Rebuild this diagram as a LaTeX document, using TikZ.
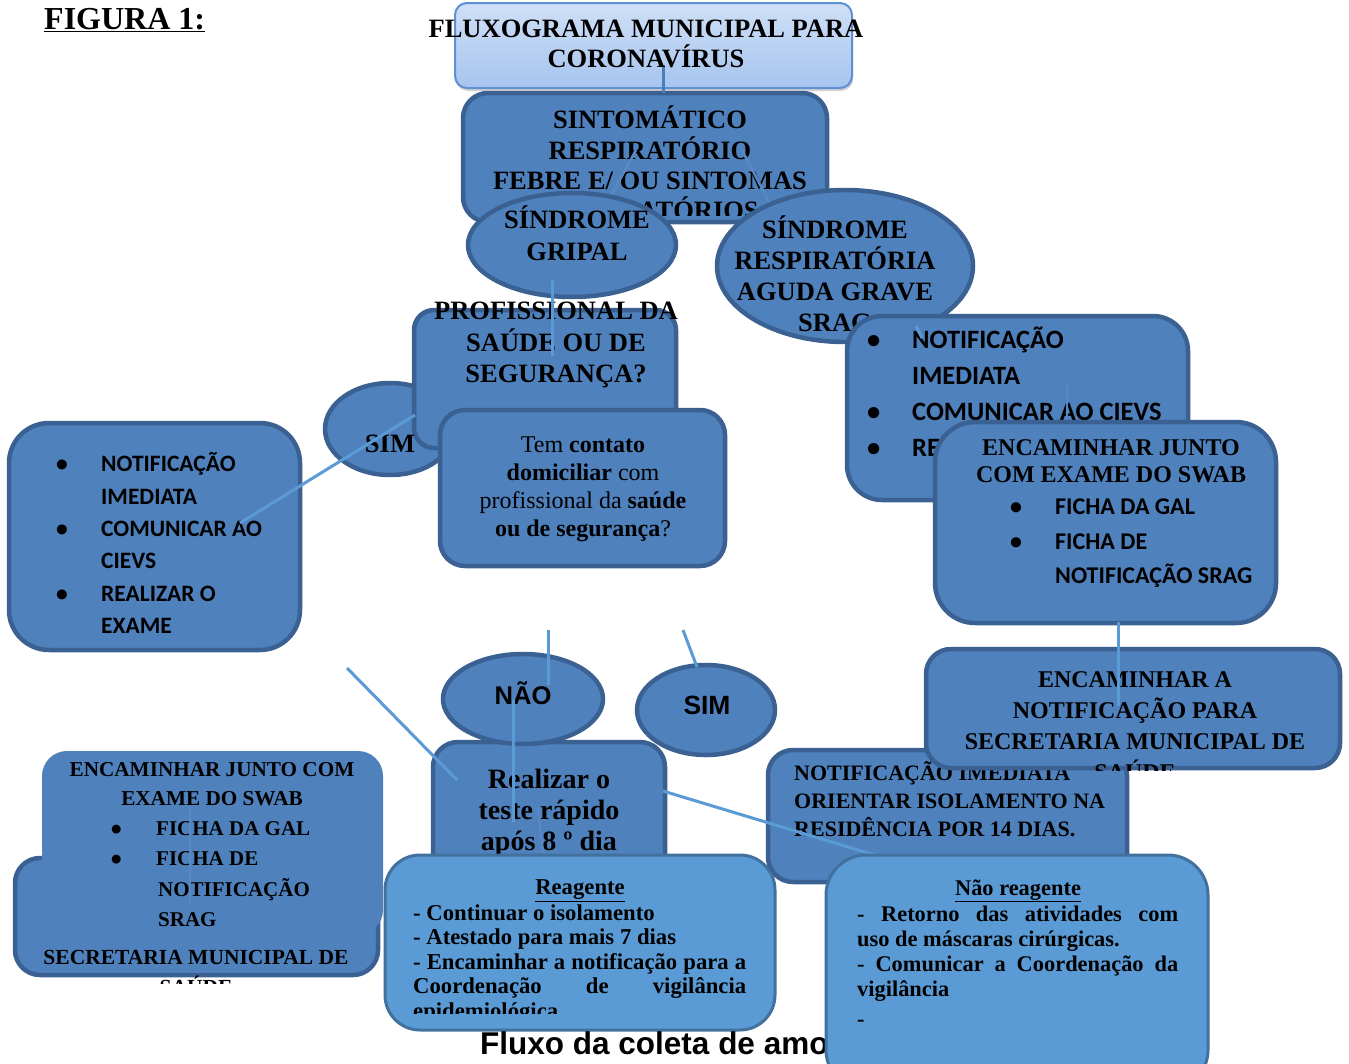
\documentclass[tikz,border=0pt]{standalone}
\usepackage{fontspec}
\setmainfont{Liberation Serif}
\newfontfamily\calibri{Carlito}
\newfontfamily\arial{Liberation Sans}
\usepackage{tikz}
\usetikzlibrary{shapes.geometric,positioning,shadows}
\definecolor{azul}{HTML}{4F81BD}
\definecolor{borda}{HTML}{3A6192}
\definecolor{azulclaro}{HTML}{5B9BD5}
\definecolor{bordaclara}{HTML}{41719C}
\definecolor{topo}{HTML}{CFE0F7}
\definecolor{fundo}{HTML}{A6C4EE}
\definecolor{tborda}{HTML}{5E90D2}
\definecolor{corlinha}{HTML}{5B9BD5}
\definecolor{cortitulo}{HTML}{4A7EBB}
\definecolor{corfraca}{HTML}{5889C6}
\newcommand{\tam}[2]{\fontsize{#1}{#2}\selectfont}
\newcommand{\bala}[2]{\makebox[#1][l]{{\calibri\textbullet}}#2}

\begin{document}
\begin{tikzpicture}[x=1pt,y=-1pt,
    caixa/.style={draw=borda,fill=azul,line width=4.5pt,rounded corners=#1,inner sep=0pt},
    caixa/.default=25pt,
    caixaclara/.style={draw=bordaclara,fill=azulclaro,line width=3pt,rounded corners=#1,inner sep=0pt},
    caixaclara/.default=35pt,
    elipse/.style={ellipse,draw=borda,fill=azul,line width=4.5pt,inner sep=0pt},
    titulo/.style={draw=tborda,line width=2pt,rounded corners=12pt,top color=topo,bottom color=fundo,
      drop shadow={opacity=0.35,shadow xshift=1pt,shadow yshift=-3pt}},
    linha/.style={draw=corlinha,line width=3pt},
    fraca/.style={draw=corfraca,line width=2.5pt},
    tnr/.style={font=\bfseries\tam{#1}{31},align=center,inner sep=0pt},
    tnr/.default=26.5]
          \fill[white] (0,0) rectangle (1349,1063);
          \useasboundingbox (0,0) rectangle (1349,1063);
          \node[font=\bfseries\tam{32}{36},inner sep=0pt,anchor=west] (figura) at (44,20) {\underline{FIGURA 1:}};

          \node[titulo,minimum width=397pt,minimum height=85pt] (titulo) at (653.5,45.5) {};
          \node[caixa,minimum width=364pt,minimum height=129pt] (sint) at (645,157.5) {};
          \coordinate (t1) at (663,65);
          \coordinate (t2) at (663,93);
          \draw[linha,draw=cortitulo] (t1) -- (t2);
          \node[font=\bfseries\tam{26.5}{30},align=center,inner sep=0pt] (ttitulo) at (646,44) {FLUXOGRAMA MUNICIPAL PARA\\CORONAVÍRUS};
          \begin{scope}
            \clip (463,93) rectangle (827,215);
            \node[font=\bfseries\tam{26.5}{30.4},align=center,inner sep=0pt] (tsint) at (650,163) {SINTOMÁTICO\\RESPIRATÓRIO\\FEBRE E/ OU SINTOMAS\\RESPIRATÓRIOS};
          \end{scope}
          \coordinate (g1) at (636,150);
          \coordinate (g2) at (610,198);
          \coordinate (s1) at (742,150);
          \coordinate (s2) at (770,204);
          \draw[fraca] (g1) -- (g2);
          \draw[fraca] (s1) -- (s2);

          \node[elipse,minimum width=208pt,minimum height=104pt] (gripal) at (572,245) {};
          \node[tnr,font=\bfseries\tam{26.5}{32}] (tgripal) at (577,233) {SÍNDROME\\GRIPAL};
          \node[elipse,minimum width=256pt,minimum height=152pt] (srag) at (845,266) {};
          \node[tnr] (tsrag) at (835,274) {SÍNDROME\\RESPIRATÓRIA\\AGUDA GRAVE\\SRAG};

          \node[elipse,minimum width=130pt,minimum height=92pt] (sim1) at (390,429) {};
          \node[caixa=20pt,minimum width=262pt,minimum height=138pt] (prof) at (545,379) {};
          \node[tnr,font=\bfseries\tam{26.5}{31.5}] (tprof) at (556,345) {PROFISSIONAL DA\\SAÚDE OU DE\\SEGURANÇA?};
          \coordinate (p1) at (552,280);
          \coordinate (p2) at (552,356);
          \draw[linha] (p1) -- (p2);
          \node[caixa,minimum width=285pt,minimum height=156pt] (contato) at (582.5,488) {};
          \node[font=\tam{24}{28},align=center,inner sep=0pt] (tcontato) at (583,489) {Tem \textbf{contato}\\\textbf{domiciliar} com\\profissional da \textbf{saúde}\\\textbf{ou de segurança}?};
          \node[tnr] (tsim1) at (390,444) {SIM};

          \node[caixa=40pt,minimum width=291pt,minimum height=227pt] (esq) at (154.5,536.5) {};
          \node[font=\calibri\bfseries\tam{23.5}{32.3},align=left,inner sep=0pt,anchor=west] (tesq) at (56,543)
            {\bala{45pt}{NOTIFICAÇÃO}\\\hspace*{45pt}IMEDIATA\\\bala{45pt}{COMUNICAR AO}\\\hspace*{45pt}CIEVS\\\bala{45pt}{REALIZAR O}\\\hspace*{45pt}EXAME};
          \coordinate (e1) at (415,415);
          \coordinate (e2) at (240,523);
          \draw[linha] (e1) -- (e2);

          \node[caixa=35pt,minimum width=341pt,minimum height=184pt] (notif) at (1017.5,408) {};
          \node[font=\calibri\bfseries\tam{26.5}{36},align=left,inner sep=0pt,anchor=west] (tnotif) at (867,392)
            {\bala{45pt}{NOTIFICAÇÃO}\\\hspace*{45pt}IMEDIATA\\\bala{45pt}{COMUNICAR AO CIEVS}\\\bala{45pt}{REALIZAR O EXAME}};
          \coordinate (n1) at (916,326);
          \coordinate (n2) at (922,338);
          \draw[linha] (n1) -- (n2);
          \coordinate (n3) at (1067,383);
          \coordinate (n4) at (1067,425);
          \draw[fraca] (n3) -- (n4);
          \node[caixa=40pt,minimum width=341pt,minimum height=201pt] (encj) at (1105.5,522.5) {};
          \node[tnr,font=\bfseries\tam{24}{27}] (tencj) at (1111,461.5) {ENCAMINHAR JUNTO\\COM EXAME DO SWAB};
          \node[font=\calibri\bfseries\tam{24}{34.5},align=left,inner sep=0pt,anchor=west] (lencj) at (1010,543.5)
            {\bala{45pt}{FICHA DA GAL}\\\bala{45pt}{FICHA DE}\\\hspace*{45pt}NOTIFICAÇÃO SRAG};

          \node[caixa,minimum width=359pt,minimum height=132pt] (imed) at (947.5,816) {};
          \node[font=\bfseries\tam{22}{28},align=left,inner sep=0pt,anchor=west] (timed) at (794,799) {NOTIFICAÇÃO IMEDIATA\\ORIENTAR ISOLAMENTO NA\\RESIDÊNCIA POR 14 DIAS.};
          \node[caixa,minimum width=414pt,minimum height=119pt] (enca) at (1133,708.5) {};
          \begin{scope}
            \clip (900,640) rectangle (1349,770);
            \node[tnr,font=\bfseries\tam{24}{31}] (tenca) at (1135,726) {ENCAMINHAR A\\NOTIFICAÇÃO PARA\\SECRETARIA MUNICIPAL DE\\SAÚDE};
          \end{scope}
          \coordinate (a1) at (1118,622);
          \coordinate (a2) at (1118,706);
          \draw[linha] (a1) -- (a2);

          \node[caixa,minimum width=232pt,minimum height=138pt] (teste) at (549,811) {};
          \node[tnr,font=\bfseries\tam{28}{31}] (tteste) at (549,813) {Realizar o\\teste rápido\\após 8 º dia};
          \node[elipse,minimum width=160pt,minimum height=90pt] (nao) at (523,699) {};
          \node[font=\arial\bfseries\tam{25.6}{30},inner sep=0pt] (tnao) at (523,693) {NÃO};
          \node[elipse,minimum width=138pt,minimum height=90pt] (sim2) at (706,710) {};
          \node[font=\arial\bfseries\tam{26.4}{30},inner sep=0pt] (tsim2) at (707,705) {SIM};
          \coordinate (r1) at (548,630);
          \coordinate (r2) at (548,685);
          \coordinate (r3) at (683,630);
          \coordinate (r4) at (697,667);
          \coordinate (r5) at (513,700);
          \coordinate (r6) at (513,822);
          \coordinate (r7) at (538,808);
          \coordinate (r8) at (543,853);
          \coordinate (r9) at (347,668);
          \coordinate (r10) at (457,780);
          \coordinate (r11) at (663,791);
          \coordinate (r12) at (878,856);
          \draw[linha] (r1) -- (r2);
          \draw[linha] (r3) -- (r4);
          \draw[linha] (r5) -- (r6);
          \draw[fraca] (r7) -- (r8);
          \draw[linha] (r9) -- (r10);
          \draw[linha] (r11) -- (r12);

          \node[caixa,minimum width=363pt,minimum height=117pt] (secr) at (196.5,916.5) {};
          \begin{scope}
            \clip (0,850) rectangle (400,983);
            \node[tnr,font=\bfseries\tam{21.5}{30}] (tsecr) at (196,972) {SECRETARIA MUNICIPAL DE\\SAÚDE};
          \end{scope}
          \node[fill=azul,rounded corners=25pt,minimum width=341pt,minimum height=184pt] (encl) at (212.5,843) {};
          \node[tnr,font=\bfseries\tam{21.2}{29}] (tencl) at (212,784) {ENCAMINHAR JUNTO COM\\EXAME DO SWAB};
          \node[font=\bfseries\tam{21}{30.3},align=left,inner sep=0pt,anchor=west] (lencl) at (111,874)
            {\bala{45pt}{FICHA DA GAL}\\\bala{45pt}{FICHA DE}\\\hspace*{47pt}NOTIFICAÇÃO\\\hspace*{47pt}SRAG};
          \coordinate (b1) at (190,807);
          \coordinate (b2) at (190,903);
          \draw[fraca] (b1) -- (b2);

          \node[caixaclara,minimum width=390pt,minimum height=175pt] (reag) at (580,942.5) {};
          \node[font=\bfseries\tam{22.7}{25},inner sep=0pt] (treag) at (580,891) {\underline{Reagente}};
          \begin{scope}
            \clip (385,890) rectangle (775,1013);
            \node[font=\bfseries\tam{22.7}{24.5},align=left,inner sep=0pt,anchor=west] (lreag) at (413,964)
              {- Continuar o isolamento\\- Atestado para mais 7 dias\\\makebox[333pt][s]{- Encaminhar a notificação para a}\\\makebox[333pt][s]{Coordenação de vigilância}\\epidemiológica};
          \end{scope}
          \node[font=\arial\bfseries\tam{31.5}{35},inner sep=0pt,anchor=west] (fluxo) at (480,1043) {Fluxo da coleta de amostras};
          \node[caixaclara=40pt,minimum width=382pt,minimum height=235pt] (nreag) at (1017,972.5) {};
          \node[font=\bfseries\tam{22.4}{25},inner sep=0pt] (tnreag) at (1018,891) {\underline{Não reagente}};
          \node[font=\bfseries\tam{22.4}{25},align=left,inner sep=0pt,anchor=west] (lnreag) at (857,966)
            {\makebox[321pt][s]{- Retorno das atividades com}\\uso de máscaras cirúrgicas.\\\makebox[321pt][s]{- Comunicar a Coordenação da}\\vigilância\\[5pt]-};
        \end{tikzpicture}
\end{document}
